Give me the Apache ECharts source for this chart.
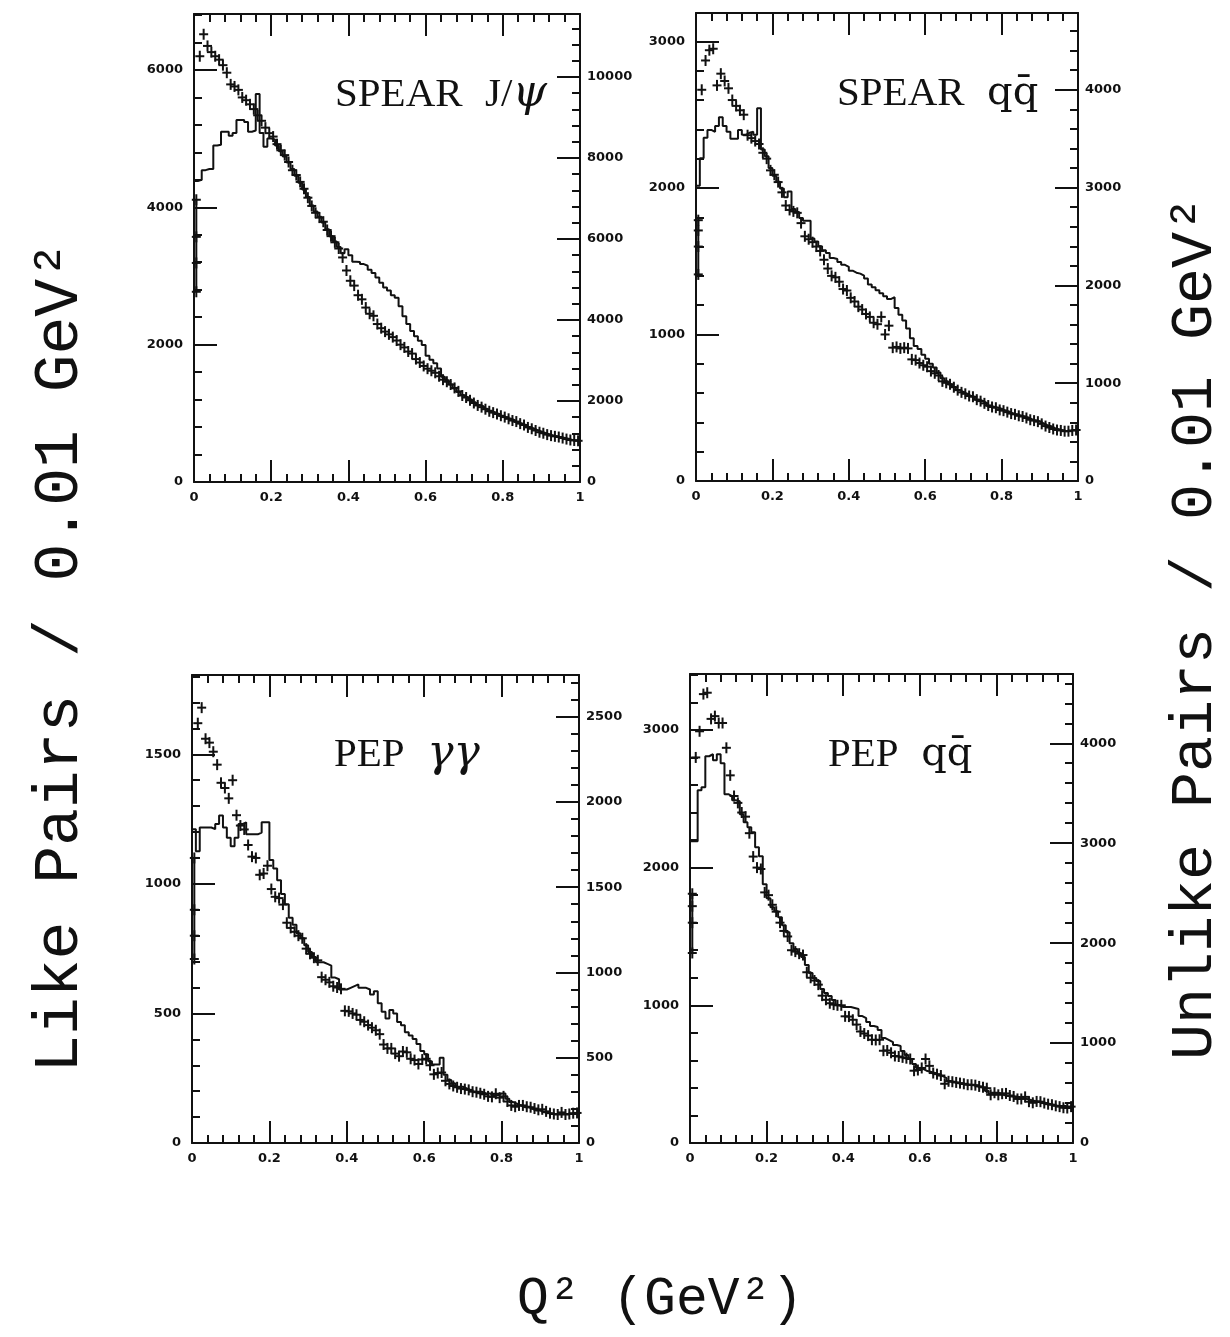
<!DOCTYPE html>
<html><head><meta charset="utf-8">
<script src="https://cdn.jsdelivr.net/npm/echarts/dist/echarts.min.js"></script>
<style>html,body{margin:0;padding:0;background:#fff}#c{width:1230px;height:1337px}</style>
</head><body><div id="c"></div>
<script>
// Bin centres of Q^2 (GeV^2), bin width 0.01
const qCenters = [0.005,0.015,0.025,0.035,0.045,0.055,0.065,0.075,0.085,0.095,
0.105,0.115,0.125,0.135,0.145,0.155,0.165,0.175,0.185,0.195,
0.205,0.215,0.225,0.235,0.245,0.255,0.265,0.275,0.285,0.295,
0.305,0.315,0.325,0.335,0.345,0.355,0.365,0.375,0.385,0.395,
0.405,0.415,0.425,0.435,0.445,0.455,0.465,0.475,0.485,0.495,
0.505,0.515,0.525,0.535,0.545,0.555,0.565,0.575,0.585,0.595,
0.605,0.615,0.625,0.635,0.645,0.655,0.665,0.675,0.685,0.695,
0.705,0.715,0.725,0.735,0.745,0.755,0.765,0.775,0.785,0.795,
0.805,0.815,0.825,0.835,0.845,0.855,0.865,0.875,0.885,0.895,
0.905,0.915,0.925,0.935,0.945,0.955,0.965,0.975,0.985,0.995];
const lowQx = 0.006;

// SPEAR J/psi : like pairs (crosses, left axis) and unlike pairs (histogram, right axis)
const like1 = [null,6200,6520,6350,6260,6200,6150,6070,5960,5790,
5760,5710,5600,5560,5500,5430,5340,5260,5160,5080,
5030,4920,4830,4760,4660,4540,4470,4370,4270,4140,
4020,3920,3850,3790,3670,3580,3490,3400,3270,3080,
2930,2860,2720,2660,2540,2450,2420,2300,2240,2190,
2150,2110,2060,2000,1960,1900,1870,1790,1740,1690,
1650,1620,1590,1540,1490,1460,1420,1370,1320,1260,
1230,1190,1150,1115,1090,1060,1030,1010,990,965,
945,920,895,880,850,830,795,775,750,725,
710,690,675,665,655,640,625,612,605,600];
const unlike1 = [7430,7460,7700,7730,7730,8310,8330,8650,8650,8550,
8620,8940,8940,8890,8650,8680,9580,8620,8280,8480,
8460,8310,8170,8040,7890,7730,7560,7390,7220,7040,
6830,6680,6550,6410,6240,6070,5940,5800,5650,5750,
5600,5440,5430,5380,5340,5240,5160,5050,4920,4800,
4730,4610,4550,4340,4090,3900,3730,3600,3490,3380,
3120,3020,2930,2800,2600,2510,2410,2310,2220,2150,
2100,2040,1970,1900,1870,1810,1760,1720,1680,1630,
1590,1560,1530,1480,1440,1410,1360,1320,1280,1250,
1210,1180,1150,1130,1100,1090,1070,1040,1030,1020];
const lowQ1 = [4110,3570,3190,2770];

// SPEAR q qbar
const like2 = [null,2670,2870,2940,2950,2700,2780,2730,2680,2600,
2560,2530,2500,2360,2340,2320,2300,2240,2200,2120,
2090,2040,1970,1880,1850,1840,1830,1760,1670,1650,
1630,1600,1570,1510,1450,1400,1390,1360,1310,1300,
1250,1225,1190,1170,1140,1120,1080,1070,1120,1000,
1060,910,915,905,910,905,830,825,805,790,
780,750,735,720,680,670,660,640,620,605,
595,580,575,555,545,530,515,505,500,485,
480,470,460,455,445,440,430,418,412,405,
390,375,365,355,348,345,340,340,345,348];
const unlike2 = [3020,3300,3510,3590,3570,3630,3720,3630,3570,3500,
3500,3590,3540,3560,3570,3540,3810,3390,3320,3200,
3120,3060,2990,2900,2960,2780,2750,2690,2660,2660,
2480,2450,2400,2360,2330,2280,2270,2240,2210,2190,
2150,2130,2120,2100,2070,2010,1980,1950,1920,1890,
1860,1880,1770,1700,1640,1560,1460,1380,1350,1290,
1250,1200,1160,1110,1050,1020,990,960,930,910,
890,870,860,830,820,800,770,760,750,740,
720,710,690,680,670,660,650,630,620,610,
590,570,560,540,530,520,510,510,520,520];
const lowQ2 = [1780,1710,1600,1410];

// PEP gamma gamma
const like3 = [null,1620,1680,1560,1545,1510,1460,1390,1370,1330,
1400,1265,1225,1210,1150,1105,1100,1035,1040,1070,
980,950,945,920,850,830,815,800,790,750,
730,715,705,640,630,620,605,600,595,510,
508,500,495,475,468,455,445,435,420,380,
365,365,345,335,353,350,325,320,305,322,
325,300,265,270,272,240,228,220,215,210,
208,205,198,196,192,188,180,178,190,175,
180,160,145,140,145,145,140,138,133,128,
130,122,115,112,110,118,110,112,115,116];
const unlike3 = [1840,1710,1850,1850,1850,1840,1870,1920,1850,1790,
1740,1790,1870,1880,1810,1810,1810,1820,1880,1880,
1660,1610,1540,1460,1400,1320,1280,1230,1200,1160,
1120,1090,1060,1060,1050,1040,970,960,900,900,
910,920,930,910,910,900,870,890,820,770,
730,780,760,710,690,650,630,610,580,540,
520,480,460,460,500,400,370,350,330,330,
320,310,300,300,300,290,290,280,280,290,
290,260,240,230,220,210,210,200,190,190,
180,180,170,170,170,170,170,170,170,170];
const lowQ3 = [1100,900,800,710];

// PEP q qbar
const like4 = [null,2800,2990,3260,3270,3080,3100,3050,3050,2870,
2670,2520,2470,2400,2370,2250,2080,2000,1990,1820,
1800,1730,1680,1600,1540,1500,1400,1390,1375,1365,
1240,1200,1180,1150,1070,1040,1015,1005,1000,1000,
920,918,895,860,810,795,780,750,748,750,
670,672,655,632,628,622,616,610,525,530,
545,610,560,508,500,490,430,448,445,440,
435,430,423,423,420,411,405,398,350,365,
350,358,360,345,338,320,320,335,300,292,
302,300,290,282,278,270,264,256,254,264];
const unlike4 = [3020,3020,3530,3560,3870,3890,3830,3890,3800,3490,
3470,3430,3420,3290,3210,3160,3110,2960,2870,2590,
2450,2360,2320,2260,2180,2110,2000,1940,1900,1860,
1780,1700,1650,1620,1540,1500,1470,1430,1380,1360,
1360,1360,1350,1340,1270,1250,1210,1170,1160,1130,
1050,1030,1010,980,970,920,880,840,790,750,
740,720,710,700,680,670,650,620,610,600,
590,590,580,580,570,560,550,520,490,500,
500,480,470,470,460,460,450,440,430,420,
410,410,400,390,380,370,370,370,360,370];
const lowQ4 = [1810,1720,1600,1380];

// Axis scales (left = like pairs, right = unlike pairs)
const scales = [
  {lMax:6815, lMaj:2000, lMin:400, rMax:11556, rMaj:2000, rMin:400},
  {lMax:3194, lMaj:1000, lMin:200, rMax:4785, rMaj:1000, rMin:200},
  {lMax:1806, lMaj:500, lMin:100, rMax:2744, rMaj:500, rMin:100},
  {lMax:3406, lMaj:1000, lMin:200, rMax:4693, rMaj:1000, rMin:200}
];
const likeSets = [like1, like2, like3, like4];
const unlikeSets = [unlike1, unlike2, unlike3, unlike4];
const lowSets = [lowQ1, lowQ2, lowQ3, lowQ4];

const layout = [
  {left:194, top:14, width:386, height:468},
  {left:696, top:13, width:382, height:468},
  {left:192, top:675, width:387, height:468},
  {left:690, top:674, width:383, height:469}
];

const INK = '#111';
const tickLab = {fontFamily:'DejaVu Sans', fontWeight:'bold', fontSize:13, color:INK};
const fmt = v => String(Math.round(v*1000)/1000);

function crossRender(params, api){
  const p = api.coord([api.value(0), api.value(1)]);
  return {type:'group', children:[
    {type:'line', shape:{x1:p[0]-4.5,y1:p[1],x2:p[0]+4.5,y2:p[1]}, style:{stroke:INK, lineWidth:2}},
    {type:'line', shape:{x1:p[0],y1:p[1]-5.5,x2:p[0],y2:p[1]+5.5}, style:{stroke:INK, lineWidth:2}}
  ]};
}

const grid = [], xAxis = [], yAxis = [], series = [];
const edges = qCenters.map(c => c - 0.005);

layout.forEach((g, i) => {
  grid.push(Object.assign({containLabel:false}, g));
  const s = scales[i];
  ['bottom','top'].forEach(pos => {
    xAxis.push({type:'value', gridIndex:i, position:pos, min:0, max:1, interval:0.2,
      axisLine:{show:true, onZero:false, lineStyle:{color:INK, width:2}},
      axisTick:{show:true, inside:true, length:22, lineStyle:{color:INK, width:2}},
      minorTick:{show:true, splitNumber:5, length:8, lineStyle:{color:INK, width:2}},
      axisLabel: pos==='bottom' ? Object.assign({margin:9, formatter:fmt}, tickLab) : {show:false},
      splitLine:{show:false}, minorSplitLine:{show:false}});
  });
  const mk = (pos, max, interval, major) => ({type:'value', gridIndex:i, position:pos, min:0, max:max, interval:interval,
      axisLine:{show:major, onZero:false, lineStyle:{color:INK, width:2}},
      axisTick:{show:true, inside:true, length: major?23:8, lineStyle:{color:INK, width:2}},
      axisLabel: major ? Object.assign({margin: pos==='left'?11:7, formatter:fmt, showMaxLabel:false}, tickLab) : {show:false},
      splitLine:{show:false}});
  yAxis.push(mk('left', s.lMax, s.lMaj, true));
  yAxis.push(mk('left', s.lMax, s.lMin, false));
  yAxis.push(mk('right', s.rMax, s.rMaj, true));
  yAxis.push(mk('right', s.rMax, s.rMin, false));

  const un = unlikeSets[i];
  series.push({type:'line', xAxisIndex:2*i, yAxisIndex:4*i+2, step:'end', symbol:'none', silent:true,
    lineStyle:{color:INK, width:2},
    data: edges.map((e,k)=>[e, un[k]]).concat([[1, un[un.length-1]]])});
  const lk = likeSets[i];
  series.push({type:'custom', xAxisIndex:2*i, yAxisIndex:4*i, renderItem:crossRender, silent:true,
    data: qCenters.map((q,k)=>[q, lk[k]]).filter(d=>d[1]!=null)});
  const lq = lowSets[i];
  series.push({type:'custom', xAxisIndex:2*i, yAxisIndex:4*i, renderItem:crossRender, silent:true,
    data: lq.map(v=>[lowQx, v])});
  series.push({type:'line', xAxisIndex:2*i, yAxisIndex:4*i, symbol:'none', silent:true,
    lineStyle:{color:INK, width:2}, data: lq.map(v=>[lowQx, v])});
});

const richStyles = {
  a:{fontFamily:'Liberation Serif', fontSize:41, color:INK},
  s:{fontFamily:'Liberation Serif', fontSize:90, color:INK},
  i:{fontFamily:'DejaVu Serif', fontStyle:'italic', fontSize:44, color:INK},
  r:{fontFamily:'DejaVu Serif', fontSize:40, color:INK}
};
function title(x, y, a, kind, b){
  return {type:'text', x:x, y:y, silent:true, style:{
    text:'{a|'+a+'}{s| }{'+kind+'|'+b+'}', verticalAlign:'middle', textVerticalAlign:'middle', fill:INK,
    rich:richStyles}};
}
function bigText(x, y, txt, size){
  return {type:'text', x:x, y:y, rotation:Math.PI/2, silent:true, style:{
    text:txt, fontFamily:'Liberation Mono', fontSize:size, fill:INK,
    align:'center', verticalAlign:'middle', textAlign:'center', textVerticalAlign:'middle'}};
}

const chart = echarts.init(document.getElementById('c'), null, {renderer:'canvas'});
chart.setOption({
  animation:false, backgroundColor:'#fff',
  grid, xAxis, yAxis, series,
  graphic:[
    {type:'text', x:335, y:95, silent:true, style:{
      text:'{a|SPEAR}{s| }{a|J/}{i|ψ}', verticalAlign:'middle', textVerticalAlign:'middle', fill:INK, rich:richStyles}},
    title(837, 94, 'SPEAR', 'r', 'qq\u0304'),
    title(334, 755, 'PEP', 'i', 'γγ'),
    title(828, 755, 'PEP', 'r', 'qq\u0304'),
    bigText(60, 657, 'Like Pairs / 0.01 GeV²', 63),
    bigText(1195, 628, 'Unlike Pairs / 0.01 GeV²', 60),
    {type:'text', x:660, y:1300, silent:true, style:{text:'Q² (GeV²)', fontFamily:'Liberation Mono', fontSize:53, fill:INK,
      align:'center', verticalAlign:'middle', textAlign:'center', textVerticalAlign:'middle'}}
  ]
});
</script>
</body></html>
